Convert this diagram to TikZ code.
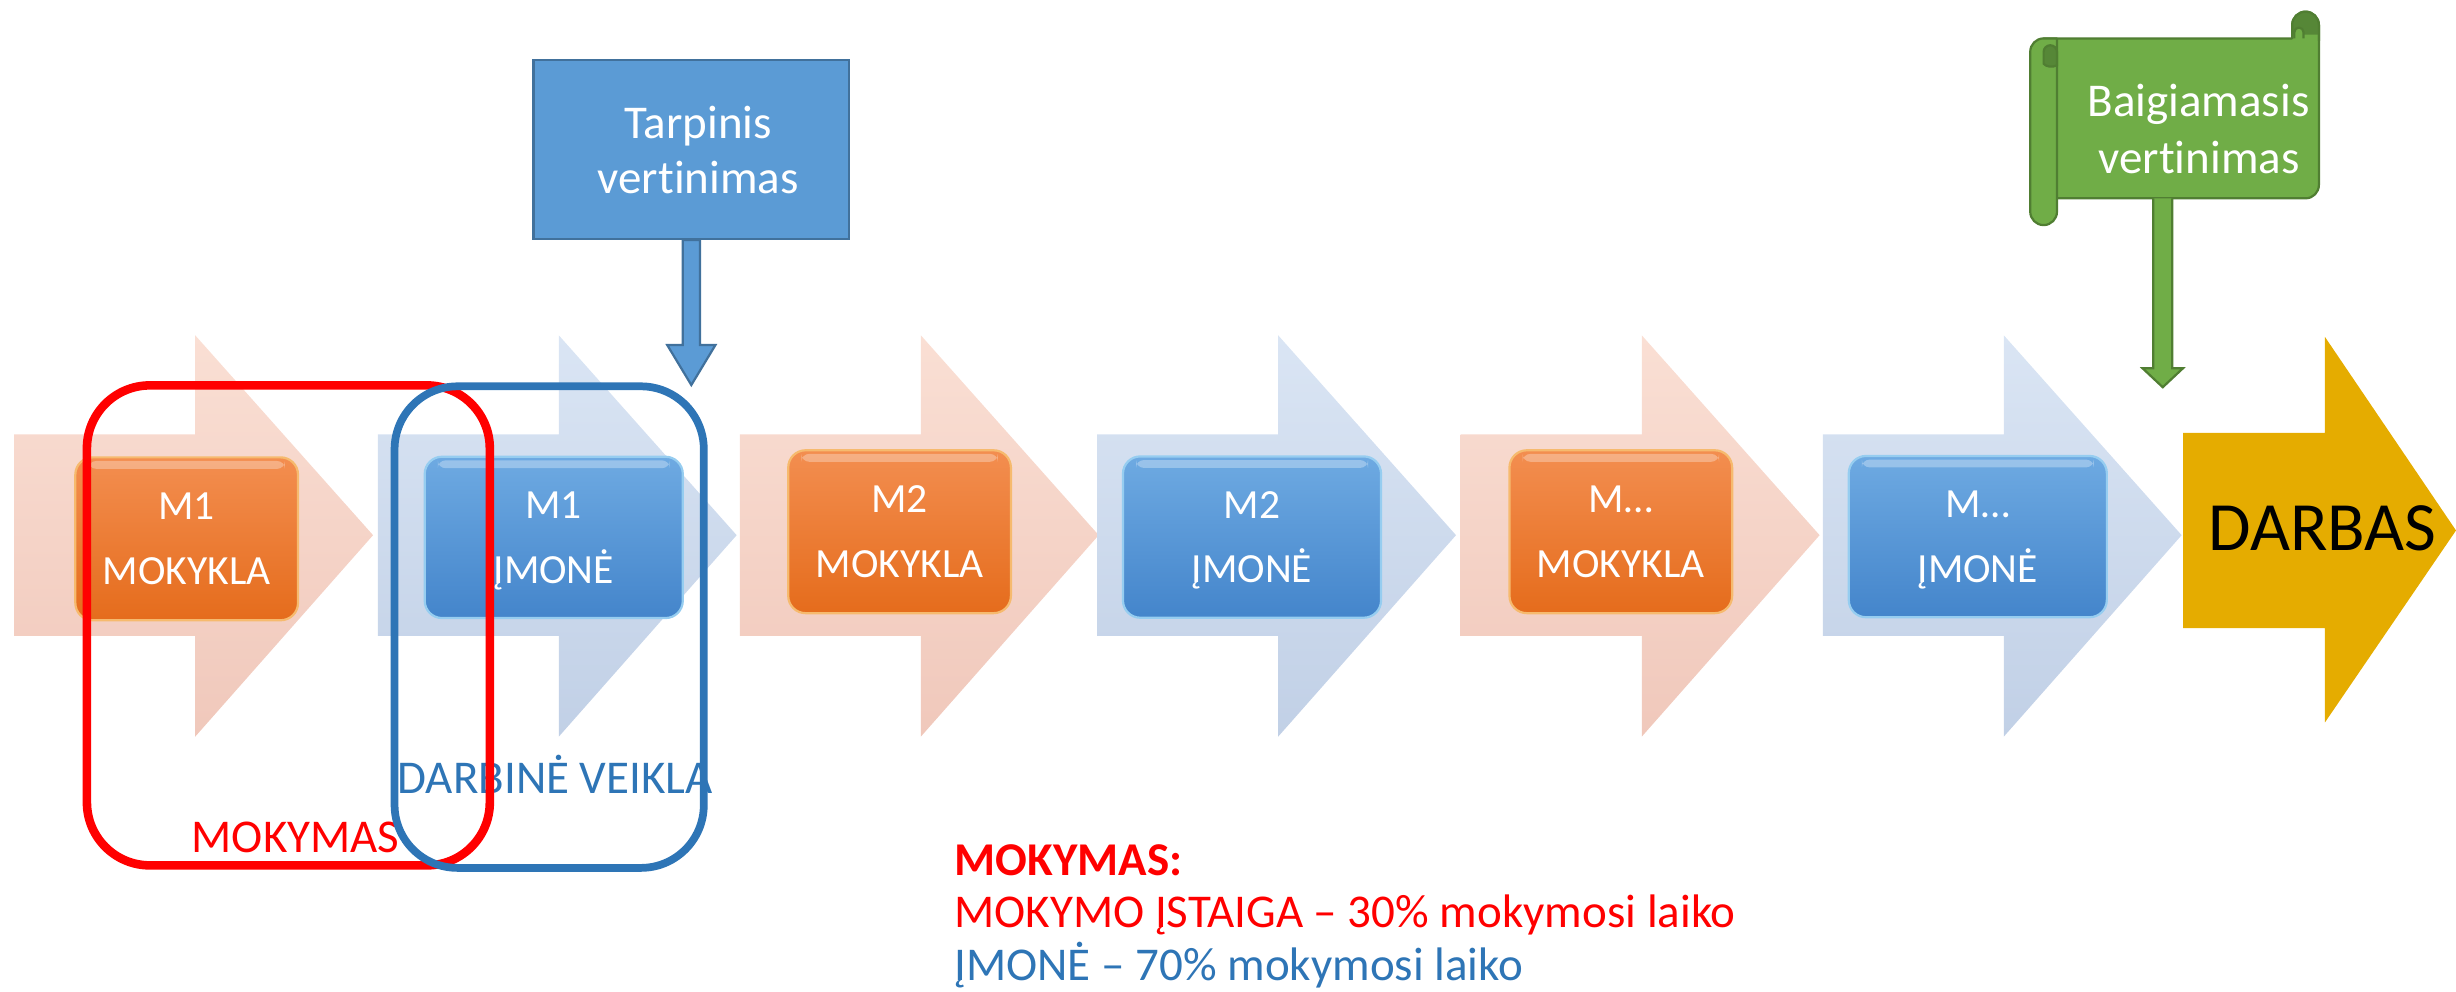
\documentclass[tikz,border=0pt]{standalone}
\usepackage{fontspec}
\setmainfont{Carlito}[Ligatures={NoCommon,NoContextual}]
\usetikzlibrary{calc}
\definecolor{pinkA}{RGB}{250,223,212}
\definecolor{pinkB}{RGB}{240,200,187}
\definecolor{bluA}{RGB}{218,229,244}
\definecolor{bluB}{RGB}{193,208,230}
\definecolor{orA}{RGB}{243,142,80}
\definecolor{orB}{RGB}{229,108,28}
\definecolor{orRim}{RGB}{246,186,110}
\definecolor{bxA}{RGB}{110,170,226}
\definecolor{bxB}{RGB}{68,133,203}
\definecolor{bxRim}{RGB}{150,205,240}
\definecolor{tvfill}{RGB}{91,155,213}
\definecolor{tvdraw}{RGB}{65,113,156}
\definecolor{grfill}{RGB}{112,173,71}
\definecolor{grdraw}{RGB}{80,126,50}
\definecolor{grdark}{RGB}{86,135,55}
\definecolor{goldA}{RGB}{229,172,0}
\definecolor{txtblue}{RGB}{46,117,182}
\definecolor{pureRed}{RGB}{255,0,0}
\newcommand\flowarrow[2]{%
  \shade[#2] (#1,276) -- ({#1+115},276) -- ({#1+115},213) -- ({#1+228},340)
    -- ({#1+115},468) -- ({#1+115},404) -- (#1,404) -- cycle;}
\begin{document}
\begin{tikzpicture}[x=0.02cm,y=-0.02cm,
  bgpink/.style={top color=pinkA,bottom color=pinkB},
  bgblue/.style={top color=bluA,bottom color=bluB},
  obox/.style={rounded corners=0.22cm,top color=orA,bottom color=orB,draw=orRim,
    line width=0.8pt,minimum width=2.83cm,minimum height=2.07cm,inner sep=0pt},
  bbox/.style={rounded corners=0.22cm,top color=bxA,bottom color=bxB,draw=bxRim,
    line width=0.8pt,minimum width=3.28cm,minimum height=2.05cm,inner sep=0pt},
  gloss/.style={white,opacity=0.3,rounded corners=0.1cm},
  btxt/.style={text=white,font=\fontsize{15pt}{18pt}\selectfont,anchor=base,inner sep=0pt},
  lbl/.style={font=\fontsize{17pt}{20pt}\selectfont,anchor=base,inner sep=0pt},
  redframe/.style={draw=pureRed,line width=3.1pt,rounded corners=0.8cm,
    minimum width=5.12cm,minimum height=6.1cm,inner sep=0pt},
  blueframe/.style={draw=txtblue,line width=2.8pt,rounded corners=0.8cm,
    minimum width=3.93cm,minimum height=6.12cm,inner sep=0pt},
  tvbox/.style={fill=tvfill,draw=tvdraw,line width=0.8pt,
    minimum width=4.01cm,minimum height=2.27cm,inner sep=0pt},
  tvarrow/.style={fill=tvfill,draw=tvdraw,line width=0.8pt,line join=miter},
  scroll/.style={fill=grfill,draw=grdraw,line width=0.8pt,line join=round},
  grarrow/.style={fill=grfill,draw=grdraw,line width=0.8pt,line join=miter}
]
\useasboundingbox (0,0) rectangle (1560.3,629.6);

% background chevron arrows
\flowarrow{9}{bgpink}
\flowarrow{240}{bgblue}
\flowarrow{470}{bgpink}
\flowarrow{697}{bgblue}
\flowarrow{928}{bgpink}
\flowarrow{1158}{bgblue}

% final arrow
\fill[goldA] (1387,275) -- (1477,275) -- (1477,214) -- (1560.3,337)
  -- (1477,459) -- (1477,399) -- (1387,399) -- cycle;
\node[font=\fontsize{25pt}{29pt}\selectfont,anchor=base,inner sep=0pt] (darbas) at (1475.5,350) {DARBAS};

% module boxes
\node[obox] (b1) at (118.6,342.3) {};
\node[bbox] (b2) at (351.8,341.4) {};
\node[obox] (b3) at (571.5,337.8) {};
\node[bbox] (b4) at (795.4,341.2) {};
\node[obox] (b5) at (1029.7,337.8) {};
\node[bbox] (b6) at (1256.5,340.9) {};
\foreach \b in {b1,b2,b3,b4,b5,b6}{
  \fill[gloss] ($(\b.north west)+(9,3)$) rectangle ($(\b.north east)+(-9,8)$);
}
\node[btxt] (b1a) at ($(b1)+(0,-12)$) {M1};
\node[btxt] (b1b) at ($(b1)+(0,29)$) {MOKYKLA};
\node[btxt] (b2a) at ($(b2)+(0,-12)$) {M1};
\node[btxt] (b2b) at ($(b2)+(0,29)$) {ĮMONĖ};
\node[btxt] (b3a) at ($(b3)+(0,-12)$) {M2};
\node[btxt] (b3b) at ($(b3)+(0,29)$) {MOKYKLA};
\node[btxt] (b4a) at ($(b4)+(0,-12)$) {M2};
\node[btxt] (b4b) at ($(b4)+(0,29)$) {ĮMONĖ};
\node[btxt] (b5a) at ($(b5)+(0,-12)$) {M…};
\node[btxt] (b5b) at ($(b5)+(0,29)$) {MOKYKLA};
\node[btxt] (b6a) at ($(b6)+(0,-12)$) {M…};
\node[btxt] (b6b) at ($(b6)+(0,29)$) {ĮMONĖ};

% group labels and frames
\node[lbl,text=txtblue] (dv) at (352.7,504) {DARBINĖ VEIKLA};
\node[lbl,text=pureRed] (mk) at (187.8,541.4) {MOKYMAS};
\node[redframe] (fr) at (183.2,397.3) {};
\node[blueframe] (fb) at (348.9,398.4) {};

% intermediate assessment
\node[tvbox] (tv) at (439.2,95) {};
\node[lbl,text=white] (tv1) at (443.6,87.9) {Tarpinis};
\node[lbl,text=white] (tv2) at (443.6,123.2) {vertinimas};
\coordinate (tvtip) at (439.2,244.6);
\draw[tvarrow] ($(tv.south)+(-5.5,0)$) -- ($(tvtip)+(-5.5,-25.4)$) -- ($(tvtip)+(-15.3,-25.4)$)
  -- (tvtip) -- ($(tvtip)+(15.3,-25.4)$) -- ($(tvtip)+(5.5,-25.4)$) -- ($(tv.south)+(5.5,0)$) -- cycle;

% final assessment scroll
\draw[scroll] (1298.3,24.4) -- (1456.2,24.4) -- (1456.2,15.9)
  arc[start angle=180,end angle=360,radius=8.5] -- (1473.2,117.5)
  arc[start angle=0,end angle=90,radius=8.5] -- (1298.3,126) -- cycle;
\fill[grdark] (1456.2,22) -- (1456.2,15.9) arc[start angle=180,end angle=360,radius=8.5]
  -- (1473.2,22) -- cycle;
\draw[scroll] (1457.6,24.4) -- (1457.6,20.4) arc[start angle=180,end angle=360,radius=2.9] -- (1463.4,24.4);
\draw[grdraw,line width=0.8pt] (1456.2,24.4) -- (1456.2,15.9) arc[start angle=180,end angle=360,radius=8.5] -- (1473.2,26);
\draw[scroll] (1289.8,134.5) -- (1289.8,32.9) arc[start angle=180,end angle=270,radius=8.5]
  -- (1306.8,24.4) -- (1306.8,134.5) arc[start angle=0,end angle=180,radius=8.5] -- cycle;
\filldraw[fill=grdark,draw=grdraw,line width=0.8pt] (1298.3,40.5) -- (1298.3,33)
  arc[start angle=180,end angle=360,radius=4.25] -- (1306.8,41.5)
  .. controls (1304,43) and (1300,42.5) .. (1298.3,40.5) -- cycle;
\node[lbl,text=white] (bv1) at (1396.7,74) {Baigiamasis};
\node[lbl,text=white] (bv2) at (1397,110) {vertinimas};
\coordinate (bvtop) at (1374,126);
\coordinate (bvtip) at (1374,246);
\draw[grarrow] ($(bvtop)+(-6,0)$) -- ($(bvtip)+(-6,-12)$) -- ($(bvtip)+(-12.8,-12)$) -- (bvtip)
  -- ($(bvtip)+(12.8,-12)$) -- ($(bvtip)+(6,-12)$) -- ($(bvtop)+(6,0)$);

% legend
\node[lbl,anchor=base west,text=pureRed,font=\fontsize{17pt}{20pt}\selectfont\bfseries] (lg0) at (606,556) {MOKYMAS:};
\node[lbl,anchor=base west,text=pureRed] (lg1) at (606,589) {MOKYMO ĮSTAIGA – 30\% mokymosi laiko};
\node[lbl,anchor=base west,text=txtblue] (lg2) at (606,623) {ĮMONĖ – 70\% mokymosi laiko};
\end{tikzpicture}
\end{document}
